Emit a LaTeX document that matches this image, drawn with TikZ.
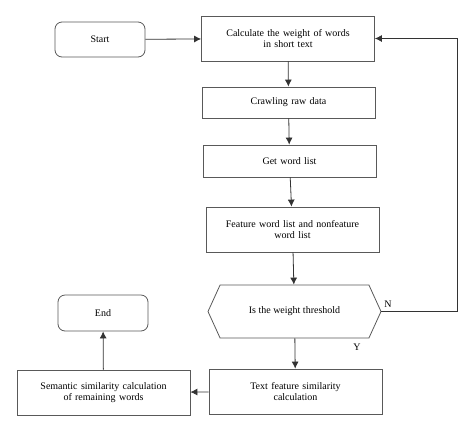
\documentclass[tikz,border=0pt]{standalone}
\usepackage{fontspec}
\setmainfont{Liberation Serif}
\usetikzlibrary{arrows.meta,shapes.symbols}
\begin{document}
\begin{tikzpicture}[x=1pt,y=1pt,font=\fontsize{10}{11.5}\selectfont]
		\tikzset{block/.style={rectangle, draw=black!65, line width=0.8pt, text width=165pt, align=center, minimum width=173pt, inner sep=2pt}};
		\tikzset{term/.style={rectangle, draw=black!65, line width=0.8pt, rounded corners=7pt, minimum width=90pt, minimum height=35pt}};
		\tikzset{test/.style={signal, signal to=east and west, signal pointer angle=131, draw=black!65, line width=0.8pt, minimum width=173pt, minimum height=53pt}};
		\tikzset{flow/.style={draw=black!80, line width=0.8pt, -{Latex[length=7pt,width=7pt]}}};
		\useasboundingbox (0,0) rectangle (474,-432);
		\node[term] (Start) at (100  , -39.5) {Start};
		\node[block, minimum height=45pt] (Weight) at (288  , -38.5) {Calculate the weight of words\\in short text};
		\node[block, minimum height=31pt] (Crawl) at (288.5,-102.5) {Crawling raw data};
		\node[block, minimum height=32pt] (WordList) at (289.5,-161  ) {Get word list};
		\node[block, minimum height=45pt] (Feature) at (292.5,-229.5) {Feature word list and nonfeature\\word list};
		\node[test] (Thresh) at (294.5,-311.5) {Is the weight threshold};
		\node[block, minimum height=45pt] (TextSim) at (295.5,-391.5) {Text feature similarity\\calculation};
		\node[block, minimum height=45pt] (SemSim) at (103.5,-392.5) {Semantic similarity calculation\\of remaining words};
		\node[term, minimum height=36pt] (End) at (103  , -313  ) {End};
		\coordinate (Back) at (457,-38.5);
		\draw[flow] (Start)--(Weight);
		\draw[flow] (Weight)--(Crawl);
		\draw[flow] (Crawl)--(WordList);
		\draw[flow] (WordList)--(Feature);
		\draw[flow] (Feature)--(Thresh);
		\draw[flow] (Thresh)--(TextSim);
		\draw[flow] (Thresh.east) -| (Back) -- (Weight.east);
		\draw[flow] (TextSim)--(SemSim);
		\draw[flow] (SemSim)--(End);
		\node (N) at (388,-304) {N};
		\node (Y) at (357,-347) {Y};
	\end{tikzpicture}
\end{document}
